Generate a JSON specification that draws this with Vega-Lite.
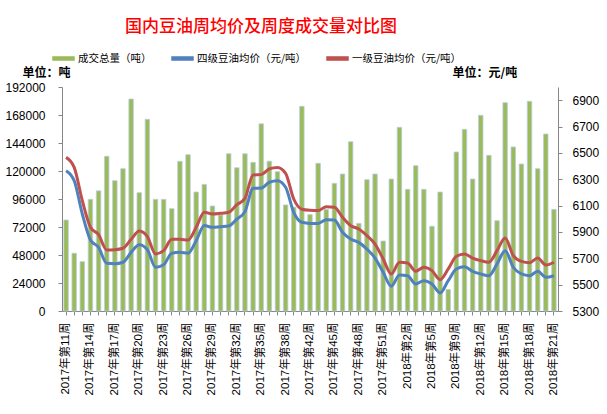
{
  "$schema": "https://vega.github.io/schema/vega-lite/v6.json",
  "width": 496,
  "height": 224,
  "autosize": {"type": "none"},
  "padding": {"left": 62, "top": 87, "right": 49, "bottom": 103},
  "background": "white",
  "title": {
    "text": "国内豆油周均价及周度成交量对比图",
    "color": "#FF0000",
    "fontSize": 17,
    "font": "Noto Sans CJK SC",
    "fontWeight": 500,
    "anchor": "middle",
    "frame": "group",
    "dx": -49,
    "dy": 25,
    "offset": 19,
    "baseline": "bottom"
  },
  "data": {
    "values": [
      {"week": "2017年第11周", "volume": 78000, "p4": 6365, "p1": 6466},
      {"week": "2017年第12周", "volume": 49500, "p4": 6289, "p1": 6390},
      {"week": "2017年第13周", "volume": 42300, "p4": 6036, "p1": 6137},
      {"week": "2017年第14周", "volume": 95700, "p4": 5839, "p1": 5935},
      {"week": "2017年第15周", "volume": 103000, "p4": 5783, "p1": 5879},
      {"week": "2017年第16周", "volume": 132600, "p4": 5662, "p1": 5763},
      {"week": "2017年第17周", "volume": 111700, "p4": 5659, "p1": 5765},
      {"week": "2017年第18周", "volume": 122000, "p4": 5670, "p1": 5776},
      {"week": "2017年第19周", "volume": 181700, "p4": 5745, "p1": 5844},
      {"week": "2017年第20周", "volume": 101400, "p4": 5803, "p1": 5907},
      {"week": "2017年第21周", "volume": 164300, "p4": 5765, "p1": 5864},
      {"week": "2017年第22周", "volume": 95700, "p4": 5632, "p1": 5733},
      {"week": "2017年第23周", "volume": 95700, "p4": 5651, "p1": 5758},
      {"week": "2017年第24周", "volume": 87700, "p4": 5738, "p1": 5844},
      {"week": "2017年第25周", "volume": 128300, "p4": 5745, "p1": 5844},
      {"week": "2017年第26周", "volume": 134000, "p4": 5738, "p1": 5839},
      {"week": "2017年第27周", "volume": 102000, "p4": 5834, "p1": 5935},
      {"week": "2017年第28周", "volume": 108500, "p4": 5948, "p1": 6049},
      {"week": "2017年第29周", "volume": 90000, "p4": 5935, "p1": 6036},
      {"week": "2017年第30周", "volume": 82300, "p4": 5940, "p1": 6041},
      {"week": "2017年第31周", "volume": 134800, "p4": 5945, "p1": 6049},
      {"week": "2017年第32周", "volume": 122800, "p4": 5998, "p1": 6107},
      {"week": "2017年第33周", "volume": 134800, "p4": 6054, "p1": 6155},
      {"week": "2017年第34周", "volume": 127400, "p4": 6231, "p1": 6332},
      {"week": "2017年第35周", "volume": 160400, "p4": 6233, "p1": 6335},
      {"week": "2017年第36周", "volume": 128400, "p4": 6277, "p1": 6378},
      {"week": "2017年第37周", "volume": 119400, "p4": 6289, "p1": 6390},
      {"week": "2017年第38周", "volume": 90900, "p4": 6239, "p1": 6345},
      {"week": "2017年第39周", "volume": 89000, "p4": 6049, "p1": 6150},
      {"week": "2017年第41周", "volume": 175400, "p4": 5973, "p1": 6072},
      {"week": "2017年第42周", "volume": 82600, "p4": 5965, "p1": 6064},
      {"week": "2017年第43周", "volume": 126600, "p4": 5965, "p1": 6062},
      {"week": "2017年第44周", "volume": 87000, "p4": 5993, "p1": 6092},
      {"week": "2017年第45周", "volume": 109400, "p4": 5990, "p1": 6088},
      {"week": "2017年第46周", "volume": 117400, "p4": 5897, "p1": 6011},
      {"week": "2017年第47周", "volume": 145100, "p4": 5846, "p1": 5948},
      {"week": "2017年第48周", "volume": 75100, "p4": 5821, "p1": 5922},
      {"week": "2017年第49周", "volume": 112600, "p4": 5770, "p1": 5872},
      {"week": "2017年第50周", "volume": 117400, "p4": 5702, "p1": 5808},
      {"week": "2017年第51周", "volume": 60000, "p4": 5594, "p1": 5695},
      {"week": "2017年第52周", "volume": 113100, "p4": 5487, "p1": 5581},
      {"week": "2018年第1周", "volume": 157400, "p4": 5573, "p1": 5670},
      {"week": "2018年第2周", "volume": 104300, "p4": 5568, "p1": 5664},
      {"week": "2018年第3周", "volume": 124600, "p4": 5505, "p1": 5601},
      {"week": "2018年第4周", "volume": 104300, "p4": 5530, "p1": 5632},
      {"week": "2018年第5周", "volume": 72600, "p4": 5505, "p1": 5606},
      {"week": "2018年第6周", "volume": 102000, "p4": 5437, "p1": 5538},
      {"week": "2018年第8周", "volume": 18400, "p4": 5530, "p1": 5619},
      {"week": "2018年第9周", "volume": 136300, "p4": 5619, "p1": 5715},
      {"week": "2018年第10周", "volume": 155700, "p4": 5636, "p1": 5733},
      {"week": "2018年第11周", "volume": 113100, "p4": 5601, "p1": 5702},
      {"week": "2018年第12周", "volume": 167700, "p4": 5581, "p1": 5682},
      {"week": "2018年第13周", "volume": 133400, "p4": 5568, "p1": 5670},
      {"week": "2018年第14周", "volume": 77400, "p4": 5657, "p1": 5758},
      {"week": "2018年第15周", "volume": 178600, "p4": 5758, "p1": 5854},
      {"week": "2018年第16周", "volume": 140600, "p4": 5632, "p1": 5720},
      {"week": "2018年第17周", "volume": 126000, "p4": 5581, "p1": 5677},
      {"week": "2018年第18周", "volume": 179700, "p4": 5568, "p1": 5667},
      {"week": "2018年第19周", "volume": 122000, "p4": 5601, "p1": 5702},
      {"week": "2018年第20周", "volume": 151700, "p4": 5556, "p1": 5649},
      {"week": "2018年第21周", "volume": 87100, "p4": 5568, "p1": 5670}
    ]
  },
  "encoding": {
    "x": {
      "field": "week",
      "type": "nominal",
      "sort": null,
      "scale": {"paddingInner": 0.45, "paddingOuter": 0.225},
      "axis": {
        "title": null,
        "labelAngle": -90,
        "labelOverlap": false,
        "labelFont": "Liberation Sans, Noto Sans CJK SC",
        "labelFontSize": 11.5,
        "labelColor": "#000000",
        "labelPadding": 7,
        "tickSize": 4,
        "tickColor": "#868686",
        "domainColor": "#868686",
        "labelExpr": "indexof(['2017年第11周','2017年第14周','2017年第17周','2017年第20周','2017年第23周','2017年第26周','2017年第29周','2017年第32周','2017年第35周','2017年第38周','2017年第42周','2017年第45周','2017年第48周','2017年第51周','2018年第2周','2018年第5周','2018年第9周','2018年第12周','2018年第15周','2018年第18周','2018年第21周'], datum.value) >= 0 ? datum.value : ''"
      }
    }
  },
  "layer": [
    {
      "mark": {"type": "bar", "stroke": "#B9CDE5", "strokeWidth": 0.8},
      "encoding": {
        "y": {
          "field": "volume",
          "type": "quantitative",
          "scale": {"domain": [0, 192000], "nice": false, "zero": true},
          "axis": {
            "orient": "left",
            "values": [0, 24000, 48000, 72000, 96000, 120000, 144000, 168000, 192000],
            "format": "d",
            "grid": false,
            "labelFont": "Liberation Sans",
            "labelFontSize": 12,
            "labelColor": "#000000",
            "labelPadding": 13,
            "tickSize": 4,
            "tickColor": "#868686",
            "domainColor": "#868686",
            "title": "单位：吨",
            "titleAngle": 0,
            "titleX": -40,
            "titleY": -15,
            "titleAlign": "left",
            "titleBaseline": "middle",
            "titleFont": "Noto Sans CJK SC",
            "titleFontSize": 12,
            "titleFontWeight": "bold",
            "titleColor": "#000000"
          }
        },
        "color": {
          "datum": "成交总量（吨）",
          "scale": {
            "domain": ["成交总量（吨）", "四级豆油均价（元/吨）", "一级豆油均价（元/吨）"],
            "range": ["#9BBB59", "#4F81BD", "#C0504D"]
          },
          "legend": {
            "title": null,
            "orient": "none",
            "legendX": -10,
            "legendY": -40,
            "direction": "horizontal",
            "columnPadding": 17,
            "labelFont": "Noto Sans CJK SC",
            "labelFontSize": 10.5,
            "labelColor": "#000000",
            "labelOffset": 3,
            "symbolSize": 441,
            "symbolType": "M-1,-0.15H1V0.15H-1Z",
            "encode": {
              "symbols": {
                "update": {
                  "shape": {"signal": "datum.value === '成交总量（吨）' ? 'M-1,-0.28H1V0.28H-1Z' : 'M-1,-0.14H1V0.14H-1Z'"},
                  "fill": {"scale": "color", "field": "value"},
                  "stroke": {"value": "transparent"},
                  "strokeWidth": {"value": 0},
                  "opacity": {"value": 1},
                  "fillOpacity": {"value": 1}
                }
              }
            }
          }
        }
      }
    },
    {
      "encoding": {
        "y": {
          "type": "quantitative",
          "scale": {"domain": [5300, 7000], "nice": false, "zero": false},
          "axis": {
            "orient": "right",
            "values": [5300, 5500, 5700, 5900, 6100, 6300, 6500, 6700, 6900],
            "format": "d",
            "grid": false,
            "labelFont": "Liberation Sans",
            "labelFontSize": 12,
            "labelColor": "#000000",
            "labelPadding": 10,
            "tickSize": 4,
            "tickColor": "#868686",
            "domainColor": "#868686",
            "title": "单位：元/吨",
            "titleAngle": 0,
            "titleX": -106,
            "titleY": -15,
            "titleAlign": "left",
            "titleBaseline": "middle",
            "titleFont": "Noto Sans CJK SC",
            "titleFontSize": 12,
            "titleFontWeight": "bold",
            "titleColor": "#000000"
          }
        }
      },
      "layer": [
        {
          "mark": {"type": "line", "strokeWidth": 3, "interpolate": "monotone"},
          "encoding": {
            "y": {"field": "p4", "type": "quantitative"},
            "color": {"datum": "四级豆油均价（元/吨）"}
          }
        },
        {
          "mark": {"type": "line", "strokeWidth": 3, "interpolate": "monotone"},
          "encoding": {
            "y": {"field": "p1", "type": "quantitative"},
            "color": {"datum": "一级豆油均价（元/吨）"}
          }
        }
      ]
    }
  ],
  "resolve": {"scale": {"y": "independent"}},
  "config": {
    "view": {"stroke": null},
    "font": "Liberation Sans"
  }
}
